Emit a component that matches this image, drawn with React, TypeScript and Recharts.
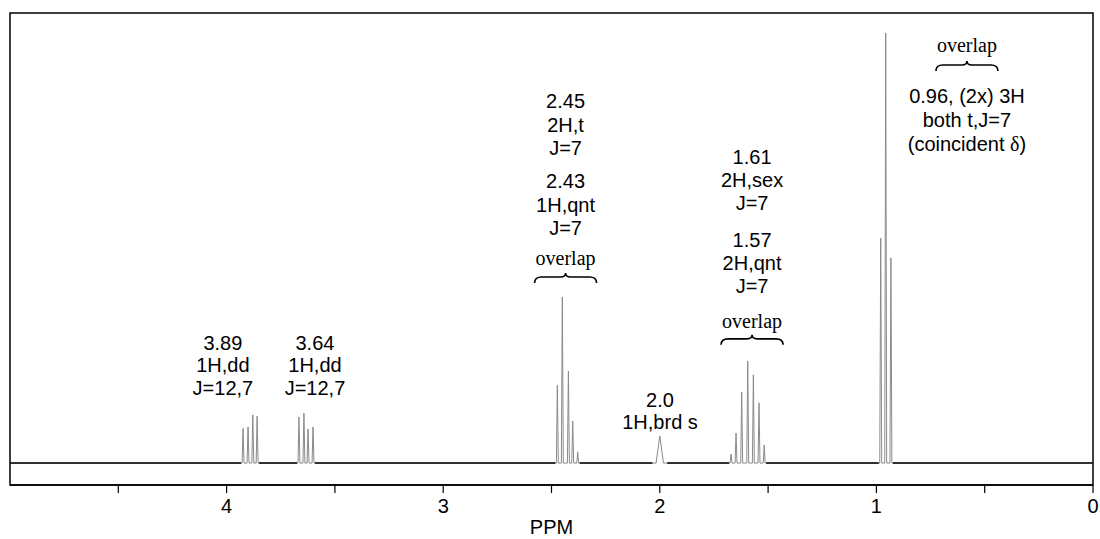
import React from "react";
import { LineChart, Line, XAxis, YAxis, ReferenceArea, ReferenceDot, Label } from "recharts";

// ---- Data (ppm positions and relative heights) ----
const ppm389 = [3.924, 3.901, 3.879, 3.859];
const height389 = [0.081, 0.084, 0.112, 0.109];

const ppm364 = [3.666, 3.643, 3.624, 3.601];
const height364 = [0.107, 0.116, 0.079, 0.084];

const ppm245 = [2.473, 2.45, 2.422, 2.402, 2.379];
const height245 = [0.181, 0.386, 0.214, 0.098, 0.026];

const ppm200 = [2.0];
const height200 = [0.063];

const ppm161 = [1.671, 1.648, 1.622, 1.594, 1.568, 1.542, 1.518];
const height161 = [0.021, 0.07, 0.165, 0.237, 0.205, 0.14, 0.042];

const ppm096 = [0.98, 0.957, 0.933];
const height096 = [0.523, 1.0, 0.477];

const xTicks = [0, 0.5, 1, 1.5, 2, 2.5, 3, 3.5, 4, 4.5];
const xDomain = [0, 5];
const yDomain = [-0.051, 1.0465];

const lineHalfWidth = 0.0045;
const broadHalfWidth = 0.017;

type Group = { ppm: number[]; height: number[]; hw: number };
const groups: Group[] = [
  { ppm: ppm389, height: height389, hw: lineHalfWidth },
  { ppm: ppm364, height: height364, hw: lineHalfWidth },
  { ppm: ppm245, height: height245, hw: lineHalfWidth },
  { ppm: ppm200, height: height200, hw: broadHalfWidth },
  { ppm: ppm161, height: height161, hw: lineHalfWidth },
  { ppm: ppm096, height: height096, hw: lineHalfWidth },
];

type Row = { ppm: number; spectrum: number; baseline: number | null };

function buildRows(): Row[] {
  const rows: Row[] = [];
  rows.push({ ppm: xDomain[1], spectrum: 0, baseline: 0 });
  rows.push({ ppm: xDomain[0], spectrum: 0, baseline: 0 });
  groups.forEach((g) => {
    const hi = Math.max(...g.ppm) + g.hw * 2;
    const lo = Math.min(...g.ppm) - g.hw * 2;
    rows.push({ ppm: hi, spectrum: 0, baseline: 0 });
    rows.push({ ppm: lo, spectrum: 0, baseline: 0 });
    g.ppm.forEach((p, i) => {
      rows.push({ ppm: p + g.hw, spectrum: 0, baseline: null });
      rows.push({ ppm: p, spectrum: g.height[i], baseline: null });
      rows.push({ ppm: p - g.hw, spectrum: 0, baseline: null });
    });
  });
  rows.sort((a, b) => b.ppm - a.ppm);
  return rows;
}

const rows = buildRows();

// ---- Annotations ----
type Item = { text?: string; dy: number; serif?: boolean; brace?: boolean };
type Note = { ppm: number; level: number; items: Item[] };

const notes: Note[] = [
  {
    ppm: 4.017,
    level: 0.279,
    items: [
      { text: "3.89", dy: 0 },
      { text: "1H,dd", dy: 22 },
      { text: "J=12,7", dy: 45 },
    ],
  },
  {
    ppm: 3.592,
    level: 0.279,
    items: [
      { text: "3.64", dy: 0 },
      { text: "1H,dd", dy: 22 },
      { text: "J=12,7", dy: 45 },
    ],
  },
  {
    ppm: 2.435,
    level: 0.842,
    items: [
      { text: "2.45", dy: 0 },
      { text: "2H,t", dy: 24 },
      { text: "J=7", dy: 47 },
      { text: "2.43", dy: 80 },
      { text: "1H,qnt", dy: 104 },
      { text: "J=7", dy: 127 },
      { text: "overlap", dy: 157, serif: true },
      { brace: true, dy: 172 },
    ],
  },
  {
    ppm: 1.999,
    level: 0.1465,
    items: [
      { text: "2.0", dy: 0 },
      { text: "1H,brd s", dy: 22 },
    ],
  },
  {
    ppm: 1.574,
    level: 0.712,
    items: [
      { text: "1.61", dy: 0 },
      { text: "2H,sex", dy: 23 },
      { text: "J=7", dy: 46 },
      { text: "1.57", dy: 83 },
      { text: "2H,qnt", dy: 106 },
      { text: "J=7", dy: 129 },
      { text: "overlap", dy: 164, serif: true },
      { brace: true, dy: 178 },
    ],
  },
  {
    ppm: 0.582,
    level: 0.972,
    items: [
      { text: "overlap", dy: 0, serif: true },
      { brace: true, dy: 16 },
      { text: "0.96, (2x) 3H", dy: 51 },
      { text: "both t,J=7", dy: 75 },
      { text: "(coincident δ)", dy: 99 },
    ],
  },
];

const SANS = "'Liberation Sans', Arial, sans-serif";
const SERIF = "'Liberation Serif', 'Times New Roman', serif";

function bracePath(cx: number, t: number): string {
  const w = 31;
  const L = cx - w;
  const R = cx + w;
  const m = t + 4;
  const b = t + 10;
  return `M${L},${b} Q${L},${m} ${L + 7},${m} L${cx - 5},${m} Q${cx},${m} ${cx},${t} Q${cx},${m} ${cx + 5},${m} L${R - 7},${m} Q${R},${m} ${R},${b}`;
}

function renderText(text: string) {
  if (text.includes("δ")) {
    const [a, b] = text.split("δ");
    return (
      <>
        {a}
        <tspan fontFamily={SERIF}>δ</tspan>
        {b}
      </>
    );
  }
  return text;
}

function Annotation({ cx, cy, items }: { cx: number; cy: number; items: Item[] }) {
  return (
    <g>
      {items.map((it, i) =>
        it.brace ? (
          <path key={i} d={bracePath(cx, cy + it.dy)} fill="none" stroke="#000" strokeWidth={1.6} />
        ) : (
          <text
            key={i}
            x={cx}
            y={cy + it.dy}
            textAnchor="middle"
            dominantBaseline="central"
            fontFamily={it.serif ? SERIF : SANS}
            fontSize={20}
            fill="#000"
          >
            {renderText(it.text || "")}
          </text>
        )
      )}
    </g>
  );
}

const PpmLabel = (props: any) => {
  const vb = props.viewBox || {};
  return (
    <text
      x={vb.x + vb.width / 2}
      y={vb.y + 49}
      textAnchor="middle"
      fontFamily={SANS}
      fontSize={20}
      fill="#000"
    >
      PPM
    </text>
  );
};

export default function App() {
  return (
    <div style={{ width: 1100, height: 539, background: "#fff" }}>
      <style>{`body{margin:0;background:#fff}`}</style>
      <LineChart
        width={1100}
        height={539}
        data={rows}
        margin={{ top: 13, right: 7, left: 10, bottom: 0 }}
      >
        <XAxis
          dataKey="ppm"
          type="number"
          domain={xDomain}
          reversed
          ticks={xTicks}
          interval={0}
          allowDataOverflow
          tickFormatter={(v: number) => (Number.isInteger(v) ? String(v) : "")}
          tickSize={8}
          tickMargin={6}
          height={54}
          axisLine={{ stroke: "#000", strokeWidth: 1.5 }}
          tickLine={{ stroke: "#000", strokeWidth: 1.2 }}
          tick={{ fill: "#000", fontSize: 20, fontFamily: SANS }}
        >
          <Label content={PpmLabel} />
        </XAxis>
        <YAxis type="number" domain={yDomain} hide allowDataOverflow />
        <ReferenceArea
          x1={xDomain[1]}
          x2={xDomain[0]}
          y1={yDomain[0]}
          y2={yDomain[1]}
          fill="none"
          stroke="#000"
          strokeWidth={1.5}
          ifOverflow="visible"
        />
        <Line
          dataKey="spectrum"
          type="linear"
          stroke="#8a8a8a"
          strokeWidth={1}
          dot={false}
          activeDot={false}
          isAnimationActive={false}
        />
        <Line
          dataKey="baseline"
          type="linear"
          stroke="#000"
          strokeWidth={1.6}
          dot={false}
          activeDot={false}
          connectNulls={false}
          isAnimationActive={false}
        />
        {notes.map((n, i) => (
          <ReferenceDot
            key={i}
            x={n.ppm}
            y={n.level}
            r={0}
            ifOverflow="visible"
            shape={(p: any) => <Annotation cx={p.cx} cy={p.cy} items={n.items} />}
          />
        ))}
      </LineChart>
    </div>
  );
}
